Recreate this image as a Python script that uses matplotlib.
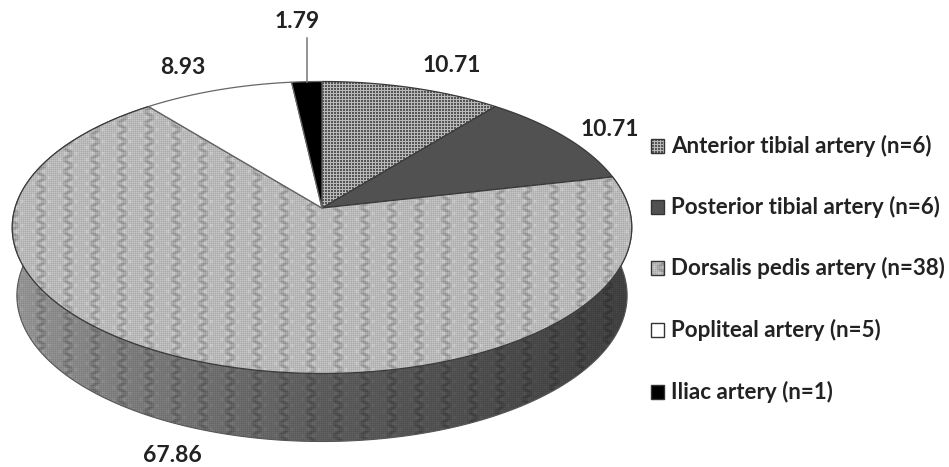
import numpy as np
import matplotlib
matplotlib.use('Agg')
import matplotlib.pyplot as plt
from matplotlib.patches import Polygon, Rectangle

plt.rcParams['font.family'] = ['Lato', 'DejaVu Sans']

# data
arteries = ["Anterior tibial artery (n=6)", "Posterior tibial artery (n=6)",
            "Dorsalis pedis artery (n=38)", "Popliteal artery (n=5)", "Iliac artery (n=1)"]
percent = [10.71, 10.71, 67.86, 8.93, 1.79]

W, H = 949, 467

# pie geometry in pixels, k is the perspective strength
CX, CY = 322, 208
A, B, K = 307, 143.4, 0.1335
DEPTH = 68


def project(theta, r=1.0, drop=0, shrink=1.0):
    u = r * np.sin(theta)
    v = r * np.cos(theta)
    d = 1 + K * v
    return CX + shrink * A * u / d, CY + drop - B * v / d


def make_texture(kind):
    y, x = np.mgrid[0:H, 0:W].astype(float)
    if kind == 'grid':
        # light lines every third pixel on dark grey
        lines = (x % 3 == 0) | (y % 3 == 0)
        return np.where(lines, 185.0, 85.0)
    if kind == 'solid':
        return np.full((H, W), 82.0)
    # wavy vertical strands over a fine weave
    wave = np.sin(2 * np.pi * y / 12)
    d = ((x + 3.0 * wave) % 27.0) - 13.5
    strand = np.exp(-(d / 3.4) ** 2)
    blobs = 0.3 + 0.7 * np.abs(np.cos(2 * np.pi * y / 12))
    glint = np.exp(-((np.abs(d) - 5.0) / 1.8) ** 2) * np.abs(np.sin(2 * np.pi * y / 12))
    weave = np.cos(2 * np.pi * (x + y) / 4.0) * np.cos(2 * np.pi * (x - y) / 4.0)
    base = 184 + 13 * weave - 36 * strand * blobs + 18 * glint
    if kind == 'weave':
        return base
    # shaded rim, dark towards the right hand side
    shade = np.interp(x, [15, 120, 320, 520, 640], [0.80, 0.68, 0.50, 0.40, 0.34])
    return base * shade


def textured(ax, pts, kind, z, edge='#333333', lw=1.0):
    poly = Polygon(pts, closed=True, facecolor='none', edgecolor=edge, linewidth=lw, zorder=z + 0.5)
    ax.add_patch(poly)
    im = ax.imshow(make_texture(kind), cmap='gray', vmin=0, vmax=255, extent=(0, W, H, 0),
                   aspect='auto', interpolation='nearest', zorder=z)
    im.set_clip_path(poly)
    return poly


fig = plt.figure(figsize=(W / 100, H / 100), dpi=100)
ax = fig.add_axes([0, 0, 1, 1])
ax.axis('off')

edges = 2 * np.pi * np.concatenate([[0], np.cumsum(percent)]) / np.sum(percent)
kinds = ['grid', 'solid', 'weave', None, None]
fills = [None, None, None, 'white', 'black']

# rim of the dorsalis pedis slice, the only one facing the viewer
t = np.linspace(edges[2], edges[3], 300)
x1, y1 = project(t)
x2, y2 = project(t[::-1], drop=DEPTH, shrink=0.985)
side = np.column_stack([np.r_[x1, x2], np.r_[y1, y2]])
textured(ax, side, 'rim', 2, edge='#555555', lw=0.8)

# top of the pie
for i in range(len(percent)):
    t = np.linspace(edges[i], edges[i + 1], 200)
    x, y = project(t)
    pts = np.column_stack([np.r_[CX, x], np.r_[CY, y]])
    if kinds[i]:
        textured(ax, pts, kinds[i], 4 + i, edge='#3a3a3a', lw=0.9)
    else:
        ax.add_patch(Polygon(pts, closed=True, facecolor=fills[i], edgecolor='#666666',
                             linewidth=0.9, zorder=4 + i))

# value labels
labels = ["%.2f" % v for v in percent]
label_xy = [(452, 65), (610, 130), (172, 456), (183, 68), (297, 22)]
for s, (lx, ly) in zip(labels, label_xy):
    ax.text(lx, ly, s, ha='center', va='center', fontsize=16.5, fontweight='bold', color='#222222', zorder=12)

# leader line of the iliac slice
mid = (edges[4] + edges[5]) / 2
tip_x, tip_y = project(mid)
ax.plot([tip_x, tip_x], [38, tip_y], color='#777777', lw=1.1, zorder=11)

# legend
legend_y = [146, 207, 268, 330, 392]
for name, ly, kind, fc in zip(arteries, legend_y, kinds, fills):
    sx0, sx1, sy0, sy1 = 651, 664, ly - 7, ly + 7
    if kind:
        textured(ax, [(sx0, sy0), (sx1, sy0), (sx1, sy1), (sx0, sy1)], kind, 12, edge='#333333', lw=1.0)
    else:
        ax.add_patch(Rectangle((sx0, sy0), sx1 - sx0, sy1 - sy0, facecolor=fc, edgecolor='#333333', lw=1.0, zorder=12))
    ax.text(671, ly, name, ha='left', va='center', fontsize=16.1, fontweight='bold', color='#222222', zorder=13)

ax.set_xlim(0, W)
ax.set_ylim(H, 0)
fig.savefig('out.png', dpi=100, facecolor='white')
